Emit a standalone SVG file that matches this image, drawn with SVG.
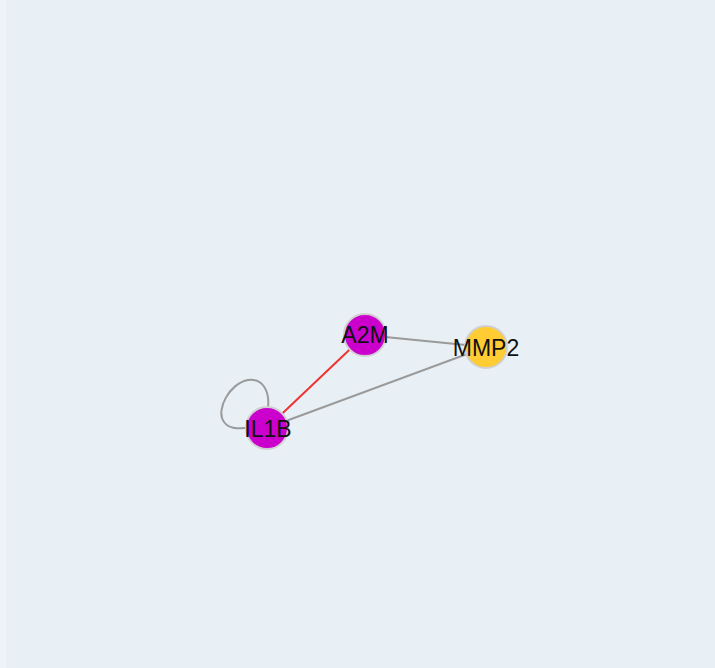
<svg xmlns="http://www.w3.org/2000/svg" width="715" height="668" viewBox="0 0 715 668">
<style>
.edge{fill:none;stroke:#9a9a9a;stroke-width:2}
.red{stroke:#ee3333}
.node{stroke:#d0d0d0;stroke-width:2}
.lbl{font-family:"Liberation Sans",Arial,sans-serif;font-size:23px;fill:#111;text-anchor:middle}
</style>
<rect x="0" y="0" width="715" height="668" fill="#e8f0f6"/>
<rect x="0" y="0" width="6" height="668" fill="#edf3f8"/>
<g id="connectors">
<line class="edge" x1="365" y1="335" x2="486" y2="347"/>
<line class="edge" x1="267" y1="428" x2="486" y2="347"/>
<line class="edge red" x1="267" y1="428" x2="365" y2="335"/>
<path class="edge" d="M268,408 C270,390 262,378 248,380 C230,383 215,410 224,422 C230,430 240,428 250,428"/>
</g>
<g id="A2M"><circle class="node" cx="365" cy="335" r="21" fill="#cc00cc"/><text class="lbl" x="365" y="343">A2M</text></g>
<g id="MMP2"><circle class="node" cx="486" cy="347" r="21" fill="#ffcc33"/><text class="lbl" x="486" y="356">MMP2</text></g>
<g id="IL1B"><circle class="node" cx="267" cy="428" r="21" fill="#cc00cc"/><text class="lbl" x="268" y="437">IL1B</text></g>
</svg>
